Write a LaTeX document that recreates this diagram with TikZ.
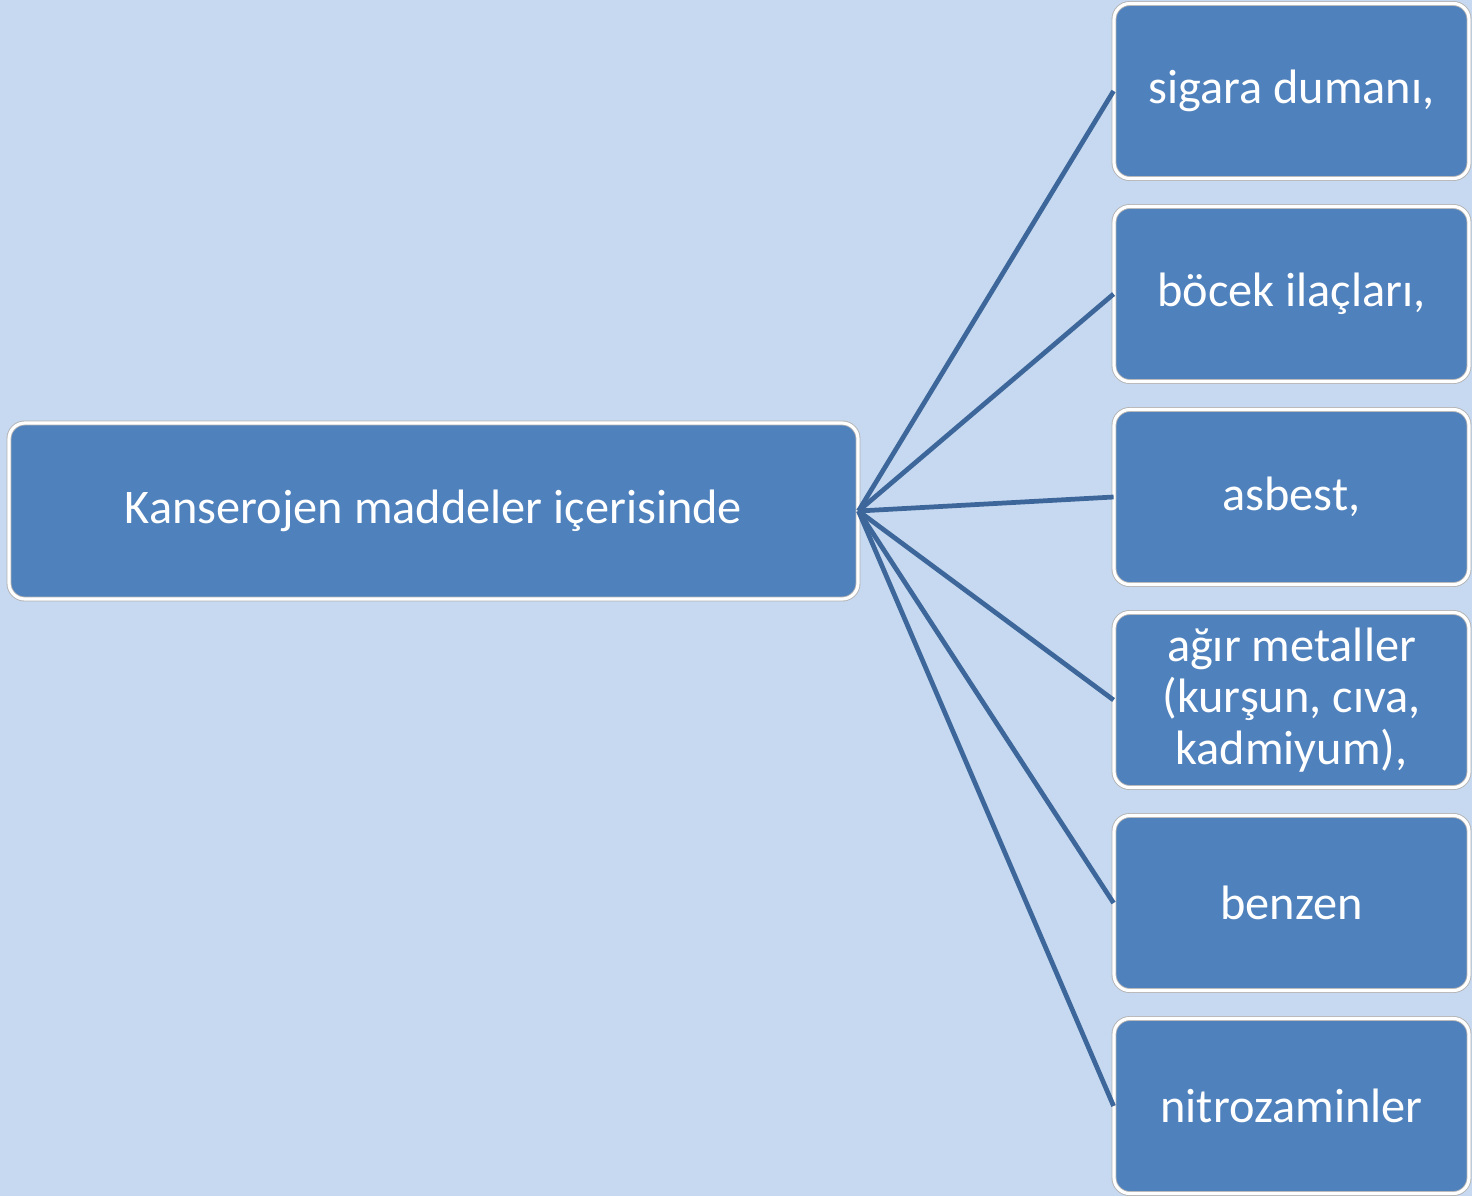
\documentclass[tikz,border=0pt]{standalone}
\usepackage{fontspec}
\setmainfont{Carlito}
\usetikzlibrary{positioning}

\definecolor{bgblue}{HTML}{C6D9F0}
\definecolor{boxblue}{HTML}{4F81BD}
\definecolor{lineblue}{HTML}{3D679A}

\begin{document}
\begin{tikzpicture}[
    box/.style={rectangle, rounded corners=9pt, draw=gray!60, line width=0.5pt, double=white, double distance=1.8pt, fill=boxblue, text=white, align=center, font=\fontsize{27.5}{29.5}\selectfont},
    rootbox/.style={box, minimum width=16.98cm, minimum height=3.52cm},
    itembox/.style={box, minimum width=7.1cm, minimum height=3.5cm},
    link/.style={draw=lineblue, line width=2.7pt}
]

    % Background ===========================
    \fill[bgblue] (0,0) rectangle (29.44,-23.92);
    \useasboundingbox (0,0) rectangle (29.44,-23.92);

    % Root ===========================
    \node[rootbox] (kanser) at (8.67, -10.22) {Kanserojen maddeler içerisinde};

    % Items ===========================
    \node[itembox] (sigara) at (25.83, -1.82) {sigara dumanı,};
    \node[itembox] (bocek) at (25.83, -5.88) {böcek ilaçları,};
    \node[itembox] (asbest) at (25.83, -9.94) {asbest,};
    \node[itembox] (metal) at (25.83, -14.0) {ağır metaller\\(kurşun, cıva,\\kadmiyum),};
    \node[itembox] (benzen) at (25.83, -18.06) {benzen};
    \node[itembox] (nitro) at (25.83, -22.12) {nitrozaminler};

    % Root <-> Item Edges ========
    \foreach \item in {sigara, bocek, asbest, metal, benzen, nitro}
        \draw[link] (kanser.east) -- (\item.west);

\end{tikzpicture}
\end{document}
